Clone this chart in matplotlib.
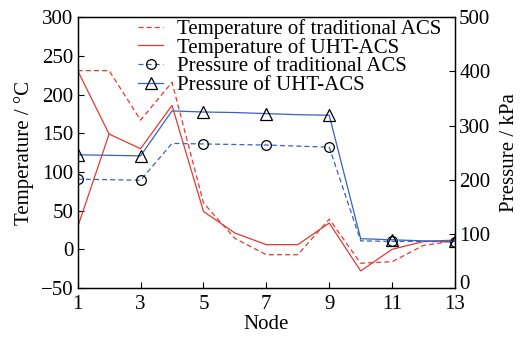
import matplotlib as mpl
import matplotlib.pyplot as plt
from matplotlib.transforms import ScaledTranslation

RED = "#e8372f"
BLUE = "#3762c2"

nodes = list(range(1, 14))
xticks = [1, 3, 5, 7, 9, 11, 13]

# temperature, degC
temp_trad = [231, 231, 167, 216, 60, 14, -7, -7, 39, -18, -16, 5, 11]
temp_uht = [231, 149, 130, 186, 49, 21, 6, 6, 34, -28, 0, 10, 12]
# second branch of the UHT curve leaving node 1
branch_nodes = [1, 2]
temp_uht_branch = [29, 149]

# pressure, kPa
pres_trad = [201, 200, 199, 267, 266, 265, 264, 262, 260, 87, 86, 86, 85]
pres_uht = [246, 245, 244, 327, 325, 324, 322, 320, 319, 91, 89, 87, 86]

mpl.rcParams.update(
    {
        "font.family": ["Liberation Serif", "DejaVu Serif"],
        "font.size": 15,
        "axes.linewidth": 0.9,
        "xtick.direction": "in",
        "ytick.direction": "in",
        "xtick.major.size": 4,
        "ytick.major.size": 4,
        "xtick.major.pad": 5,
        "ytick.major.pad": 3,
        "axes.unicode_minus": True,
    }
)

fig = plt.figure(figsize=(5.2, 3.38), dpi=100)
ax = fig.add_axes([0.1494, 0.148, 0.7256, 0.801])
ax2 = ax.twinx()

lw = 0.9
dash = (0, (4, 2.5))
l1, = ax.plot(nodes, temp_trad, color=RED, lw=lw, ls=dash)
l2, = ax.plot(nodes, temp_uht, color=RED, lw=lw)
ax.plot(branch_nodes, temp_uht_branch, color=RED, lw=lw)

l3, = ax2.plot(nodes, pres_trad, color=BLUE, lw=lw, ls=dash, marker="o",
               markevery=2, ms=7, mfc="none", mec="black", mew=0.9)
l4, = ax2.plot(nodes, pres_uht, color=BLUE, lw=lw, marker="^",
               markevery=2, ms=9, mfc="none", mec="black", mew=0.9)

ax.set_xlim(1, 13)
ax.set_ylim(-50, 300)
ax2.set_ylim(0, 500)
ax.set_xticks(xticks)
ax.set_yticks(range(-50, 301, 50))
ax2.set_yticks(range(0, 501, 100))

# lift the right-hand "0" a little so it clears the "13" below it
zero_lbl = ax2.get_yticklabels()[0]
zero_lbl.set_transform(zero_lbl.get_transform() + ScaledTranslation(0, 4 / 72, fig.dpi_scale_trans))

ax.set_xlabel("Node", labelpad=1)
ax.set_ylabel("Temperature / °C", labelpad=5)
ax2.set_ylabel("Pressure / kPa", labelpad=7)

fig.legend(
    [l1, l2, l3, l4],
    ["Temperature of traditional ACS", "Temperature of UHT-ACS",
     "Pressure of traditional ACS", "Pressure of UHT-ACS"],
    loc="upper left",
    bbox_to_anchor=(138 / 520, 1 - 19 / 338),
    frameon=False,
    borderpad=0,
    borderaxespad=0,
    handlelength=1.2,
    handletextpad=0.65,
    labelspacing=-0.05,
    fontsize=15,
)

fig.savefig("out.png", dpi=100)
